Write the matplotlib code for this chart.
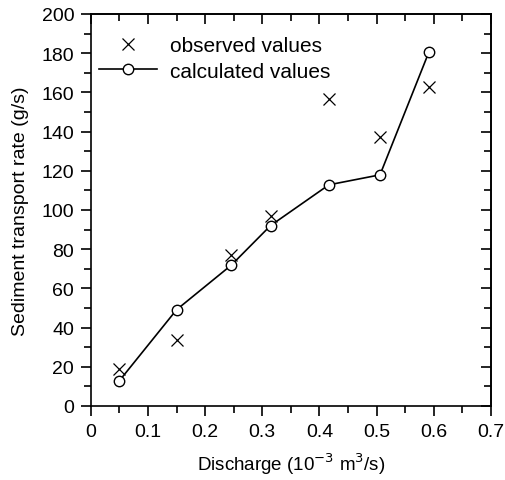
import matplotlib
matplotlib.use('Agg')
import matplotlib.pyplot as plt
from matplotlib.ticker import MultipleLocator, FuncFormatter, NullFormatter

plt.rcParams['font.family'] = ['Liberation Sans', 'DejaVu Sans']

discharge = [0.05, 0.15, 0.246, 0.3144, 0.4165, 0.506, 0.5915]
observed = [18.9, 33.8, 77.2, 96.8, 156.6, 137.1, 162.9]
calculated = [12.9, 49.1, 71.9, 92.0, 112.8, 117.9, 180.5]

fig = plt.figure(figsize=(5.05, 4.81), dpi=100)
ax = fig.add_axes([0.180, 0.154, 0.792, 0.815])

ax.plot(discharge, observed, linestyle='none', marker='x', color='black',
        markersize=8.5, markeredgewidth=0.9, label='observed values')
ax.plot(discharge, calculated, color='black', linewidth=1.2, marker='o',
        markersize=7.5, markerfacecolor='white', markeredgecolor='black',
        markeredgewidth=1.0, label='calculated values')

ax.set_xlim(0, 0.7)
ax.set_ylim(0, 200)

ax.xaxis.set_major_locator(MultipleLocator(0.1))
ax.xaxis.set_minor_locator(MultipleLocator(0.05))
ax.yaxis.set_major_locator(MultipleLocator(20))
ax.yaxis.set_minor_locator(MultipleLocator(10))
ax.xaxis.set_major_formatter(FuncFormatter(lambda v, p: '0' if abs(v) < 1e-9 else f'{v:.1f}'))
ax.tick_params(which='both', direction='out', labelsize=14, width=1.2, pad=5)
ax.tick_params(which='major', length=7)
ax.tick_params(which='minor', length=5)

# inward ticks on top and right
top = ax.secondary_xaxis('top')
top.xaxis.set_major_locator(MultipleLocator(0.1))
top.xaxis.set_minor_locator(MultipleLocator(0.05))
top.xaxis.set_major_formatter(NullFormatter())
top.tick_params(which='both', direction='in', width=1.2)
top.tick_params(which='major', length=7)
top.tick_params(which='minor', length=5)
right = ax.secondary_yaxis('right')
right.yaxis.set_major_locator(MultipleLocator(20))
right.yaxis.set_minor_locator(MultipleLocator(10))
right.yaxis.set_major_formatter(NullFormatter())
right.tick_params(which='both', direction='in', width=1.2)
right.tick_params(which='major', length=7)
right.tick_params(which='minor', length=5)

for s in list(ax.spines.values()) + list(top.spines.values()) + list(right.spines.values()):
    s.set_linewidth(1.2)

ax.set_xlabel('Discharge (10$^{-3}$ m$^3$/s)', fontsize=13.5, labelpad=8)
ax.set_ylabel('Sediment transport rate (g/s)', fontsize=14, labelpad=9)

ax.legend(loc='upper left', bbox_to_anchor=(-0.022, 0.985), frameon=False,
          fontsize=15, handlelength=2.8, borderaxespad=0.4,
          handletextpad=0.6, labelspacing=0.3)

fig.savefig('out.png', dpi=100)
